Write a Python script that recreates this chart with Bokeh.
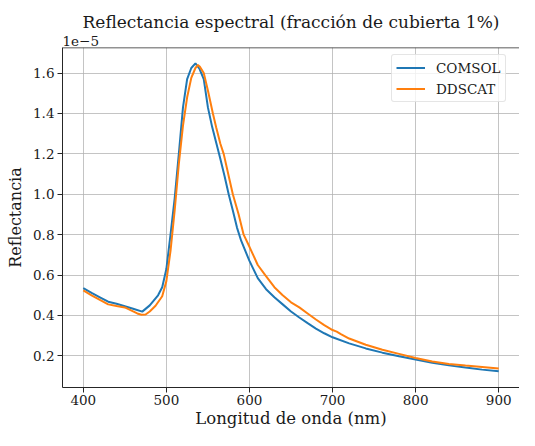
from bokeh.plotting import figure
from bokeh.models import (Range1d, FixedTicker, PrintfTickFormatter,
                          Legend, LegendItem, Title, Span)
from bokeh.embed import file_html
from bokeh.resources import INLINE

# Wavelength (nm) and reflectance values (in units of 1e-5)
lam_comsol = [400, 410, 420, 430, 440, 452, 460, 471, 480, 490, 495, 500, 505, 510,
              515, 520, 525, 530, 535, 540, 545, 550, 555, 560, 565, 570, 575, 580,
              585, 590, 600, 610, 620, 630, 640, 650, 660, 670, 680, 690, 700, 720,
              740, 760, 780, 800, 820, 840, 860, 880, 900]
comsol = [0.535, 0.512, 0.490, 0.468, 0.458, 0.443, 0.433, 0.419, 0.450, 0.500, 0.540,
          0.630, 0.800, 0.980, 1.200, 1.430, 1.570, 1.625, 1.648, 1.620, 1.570, 1.430,
          1.335, 1.255, 1.175, 1.090, 1.000, 0.920, 0.835, 0.770, 0.670, 0.585, 0.530,
          0.490, 0.455, 0.420, 0.390, 0.362, 0.335, 0.312, 0.292, 0.262, 0.237, 0.216,
          0.198, 0.182, 0.166, 0.153, 0.142, 0.132, 0.124]

lam_ddscat = [400, 410, 420, 430, 440, 450, 460, 465, 470, 475, 480, 487, 495, 500,
              505, 510, 515, 520, 525, 530, 535, 538, 540, 545, 550, 556, 560, 565,
              569, 575, 580, 587, 593, 600, 610, 619, 630, 640, 650, 660, 670, 680,
              690, 695, 700, 705, 710, 720, 740, 760, 780, 800, 820, 840, 860, 880, 900]
ddscat = [0.524, 0.500, 0.477, 0.455, 0.447, 0.440, 0.420, 0.410, 0.404, 0.405, 0.420,
          0.448, 0.495, 0.570, 0.720, 0.920, 1.150, 1.340, 1.480, 1.576, 1.625, 1.640,
          1.633, 1.600, 1.514, 1.400, 1.330, 1.250, 1.200, 1.090, 1.000, 0.900, 0.800,
          0.740, 0.650, 0.600, 0.540, 0.500, 0.465, 0.440, 0.410, 0.380, 0.352, 0.340,
          0.328, 0.320, 0.308, 0.286, 0.255, 0.230, 0.210, 0.190, 0.172, 0.160, 0.152,
          0.145, 0.138]

x_ticks = [400, 500, 600, 700, 800, 900]
y_ticks = [0.2, 0.4, 0.6, 0.8, 1.0, 1.2, 1.4, 1.6]

FONT = "DejaVu Serif"
TXT = "#1a1a1a"
SPINE = "#262626"

p = figure(width=519, height=430, output_backend="svg", toolbar_location=None,
           x_range=Range1d(375, 925), y_range=Range1d(0.0435, 1.7265),
           min_border_left=62, min_border_right=0, min_border_top=47,
           min_border_bottom=42, title=None)
p.outline_line_color = None
p.background_fill_color = "white"

for ax in (p.xaxis[0], p.yaxis[0]):
    ax.axis_line_color = SPINE
    ax.axis_line_width = 1
    ax.major_tick_line_color = SPINE
    ax.major_tick_out = 5
    ax.major_tick_in = 0
    ax.minor_tick_out = 0
    ax.minor_tick_in = 0
    ax.major_label_text_font = FONT
    ax.major_label_text_font_size = "13.5px"
    ax.major_label_text_color = TXT
    ax.axis_label_text_font = FONT
    ax.axis_label_text_font_style = "normal"
    ax.axis_label_text_color = TXT

p.xaxis.ticker = FixedTicker(ticks=x_ticks)
p.yaxis.ticker = FixedTicker(ticks=y_ticks)
p.yaxis.formatter = PrintfTickFormatter(format="%.1f")
p.xaxis.axis_label = "Longitud de onda (nm)"
p.yaxis.axis_label = "Reflectancia"
p.xaxis.axis_label_text_font_size = "16.5px"
p.yaxis.axis_label_text_font_size = "16px"
p.xaxis.major_label_standoff = 2
p.xaxis.axis_label_standoff = 1
p.yaxis.major_label_standoff = 3
p.yaxis.axis_label_standoff = 5

p.grid.grid_line_color = "#b0b0b0"
p.grid.grid_line_alpha = 0.75
p.grid.grid_line_width = 1
p.xgrid.ticker = FixedTicker(ticks=x_ticks)
p.ygrid.ticker = FixedTicker(ticks=y_ticks)

# top spine
p.add_layout(Span(location=p.y_range.end, dimension="width",
                  line_color=SPINE, line_width=1.3))

p.add_layout(Title(text="1e\u22125", align="left", text_font=FONT,
                   text_font_size="13.5px", text_font_style="normal",
                   text_color=TXT, standoff=3), "above")
p.add_layout(Title(text="Reflectancia espectral (fracción de cubierta 1%)",
                   align="center", text_font=FONT, text_font_size="17px",
                   text_font_style="normal", text_color=TXT, standoff=2), "above")

r1 = p.line(lam_comsol, comsol, line_color="#1f77b4", line_width=2)
r2 = p.line(lam_ddscat, ddscat, line_color="#ff7f0e", line_width=2)

legend = Legend(items=[LegendItem(label="COMSOL", renderers=[r1]),
                       LegendItem(label="DDSCAT", renderers=[r2])],
                location=(329, 285), glyph_width=29, glyph_height=17,
                label_height=17, label_standoff=11, padding=4, spacing=4,
                label_text_font=FONT, label_text_font_size="13.5px",
                label_text_color=TXT, border_line_color="#cccccc",
                border_line_width=1, background_fill_color="white",
                background_fill_alpha=0.8, border_radius=3)
p.add_layout(legend, "center")

open("out.html", "w").write(file_html(p, INLINE))
